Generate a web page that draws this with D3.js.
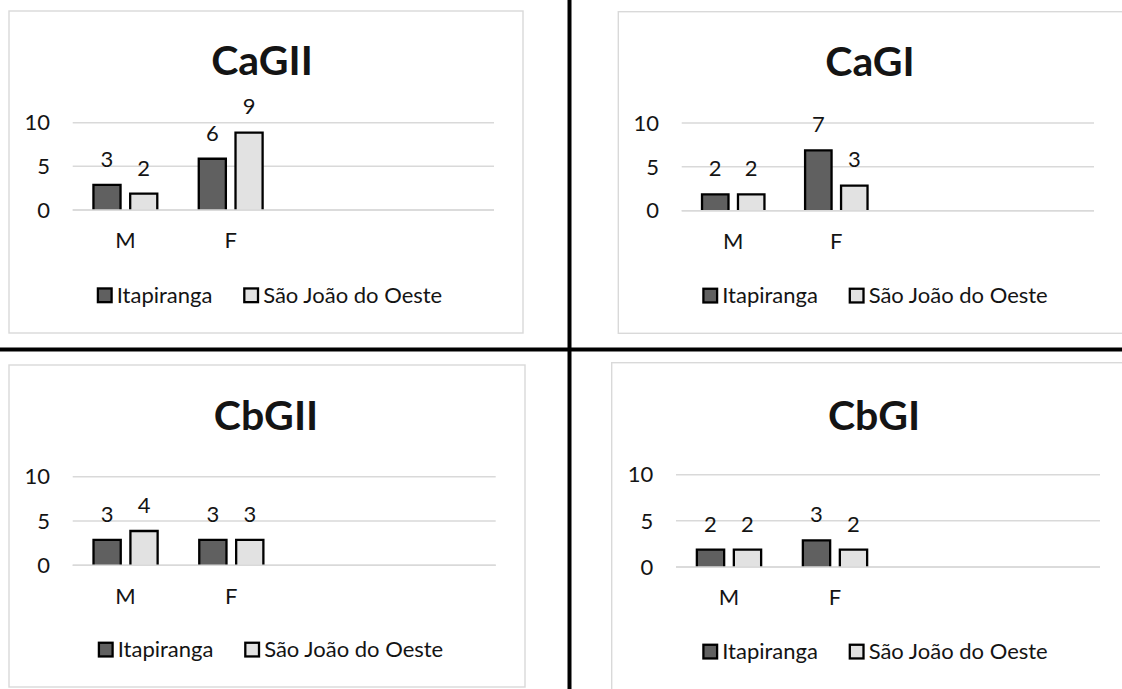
<!DOCTYPE html>
<html>
<head>
<meta charset="utf-8">
<script src="https://cdn.jsdelivr.net/npm/d3@7"></script>
<style>
  html, body { margin: 0; padding: 0; background: #fff; }
  svg { display: block; }
  text { font-family: Lato, "Open Sans", sans-serif; fill: #141414; }
</style>
</head>
<body>
<svg id="chart" width="1122" height="689"></svg>
<script>
// Four small grouped-bar charts: counts by sex (M / F) for two municipalities.
const titles = ["CaGII", "CaGI", "CbGII", "CbGI"];
const categories = ["M", "F"];
const seriesNames = ["Itapiranga", "São João do Oeste"];
const itapiranga = [[3, 6], [2, 7], [3, 3], [2, 3]];
const saoJoao = [[2, 9], [2, 3], [4, 3], [2, 2]];
const yTicks = [0, 5, 10];
const yMax = 10;
const categorySlots = 4; // the category axis reserves four slots, two are used

const colors = ["#606060", "#e2e2e2"];

// Placement of each chart box (top-left, top-right, bottom-left, bottom-right)
const layouts = [
  { box: [9, 11, 514, 322], plot: [72.7, 494], y: [210, 122.7], titleX: 262, titleY: 75, legendX: 269.5, legendY: 302.7 },
  { box: [618.3, 11.7, 520, 321.6], plot: [681.7, 1094], y: [210.7, 123], titleX: 870, titleY: 76, legendX: 875, legendY: 303 },
  { box: [9, 365, 516, 322], plot: [72.7, 495.7], y: [565.3, 476.7], titleX: 266, titleY: 430, legendX: 270.5, legendY: 657 },
  { box: [611.7, 362.7, 530, 340], plot: [676, 1100], y: [567, 474.7], titleX: 874, titleY: 430, legendX: 875, legendY: 659 }
];

const svg = d3.select("#chart");
const barStroke = 2.3;

titles.forEach((title, i) => {
  const L = layouts[i];
  const g = svg.append("g");
  const values = [itapiranga[i], saoJoao[i]];

  // chart area frame
  g.append("rect")
    .attr("x", L.box[0]).attr("y", L.box[1])
    .attr("width", L.box[2]).attr("height", L.box[3])
    .attr("fill", "#fff").attr("stroke", "#d9d9d9").attr("stroke-width", 1.4);

  // title
  g.append("text")
    .attr("x", L.titleX).attr("y", L.titleY)
    .attr("text-anchor", "middle")
    .style("font-size", "41px").style("font-weight", "bold")
    .text(title);

  const y = d3.scaleLinear().domain([0, yMax]).range(L.y);
  const x0 = d3.scaleBand().domain(d3.range(categorySlots)).range(L.plot).padding(0);
  const x1 = d3.scaleBand().domain(d3.range(seriesNames.length))
    .range([0, x0.bandwidth()]).paddingInner(0.2).paddingOuter(0.533);

  // horizontal gridlines and tick labels
  yTicks.forEach(t => {
    g.append("line")
      .attr("x1", L.plot[0]).attr("x2", L.plot[1])
      .attr("y1", y(t)).attr("y2", y(t))
      .attr("stroke", "#d9d9d9").attr("stroke-width", 1.5);
    g.append("text")
      .attr("x", L.plot[0] - 22.7).attr("y", y(t))
      .attr("dy", "0.35em")
      .attr("text-anchor", "end")
      .style("font-size", "22px")
      .text(t);
  });

  // bars with value labels
  categories.forEach((cat, ci) => {
    seriesNames.forEach((s, si) => {
      const v = values[si][ci];
      const bx = x0(ci) + x1(si);
      const bw = x1.bandwidth();
      const top = y(v);
      const base = y(0);
      const h = barStroke / 2;
      g.append("rect")
        .attr("x", bx + h).attr("y", top + h)
        .attr("width", bw - 2 * h).attr("height", base - top - h)
        .attr("fill", colors[si]);
      g.append("path")
        .attr("d", `M${bx + h},${base} V${top + h} H${bx + bw - h} V${base}`)
        .attr("fill", "none").attr("stroke", "#000")
        .attr("stroke-width", barStroke);
      g.append("text")
        .attr("x", bx + bw / 2).attr("y", top - 17)
        .attr("text-anchor", "middle")
        .style("font-size", "22px")
        .text(v);
    });
    g.append("text")
      .attr("x", x0(ci) + x0.bandwidth() / 2).attr("y", y(0) + 38.3)
      .attr("text-anchor", "middle")
      .style("font-size", "22px")
      .text(cat);
  });

  // axis baseline drawn over bar bottoms
  g.append("line")
    .attr("x1", L.plot[0]).attr("x2", L.plot[1])
    .attr("y1", y(0)).attr("y2", y(0))
    .attr("stroke", "#d9d9d9").attr("stroke-width", 1.5);

  // legend, centred on legendX
  const lg = g.append("g");
  let cx = 0;
  seriesNames.forEach((s, si) => {
    lg.append("rect")
      .attr("x", cx + 1.15).attr("y", L.legendY - 7.4 - 6.85)
      .attr("width", 13.7).attr("height", 13.7)
      .attr("fill", colors[si]).attr("stroke", "#000").attr("stroke-width", barStroke);
    const t = lg.append("text")
      .attr("x", cx + 20).attr("y", L.legendY)
      .style("font-size", "22px")
      .text(s);
    cx += 20 + t.node().getComputedTextLength() + 30.7;
  });
  const totalW = cx - 30.7;
  lg.attr("transform", `translate(${L.legendX - totalW / 2},0)`);
});

// thick black separators between the four charts
svg.append("rect").attr("x", 567.5).attr("y", 0).attr("width", 4).attr("height", 689).attr("fill", "#000");
svg.append("rect").attr("x", 0).attr("y", 347.5).attr("width", 1122).attr("height", 4).attr("fill", "#000");
</script>
</body>
</html>
